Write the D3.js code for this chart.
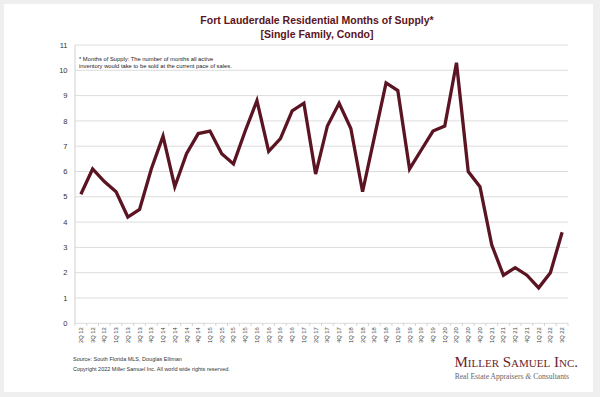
<!DOCTYPE html>
<html>
<head>
<meta charset="utf-8">
<script src="https://cdn.jsdelivr.net/npm/d3@7/dist/d3.min.js"></script>
<style>
  html, body { margin: 0; padding: 0; background: #efefef; }
  svg { display: block; font-family: Arial, "Liberation Sans", sans-serif; }
</style>
</head>
<body>
<svg id="chart" width="600" height="397"></svg>
<script>
/* ─────────────────── Datos ─────────────────── */
const quarters = [
  '2Q 12','3Q 12','4Q 12',
  '1Q 13','2Q 13','3Q 13','4Q 13',
  '1Q 14','2Q 14','3Q 14','4Q 14',
  '1Q 15','2Q 15','3Q 15','4Q 15',
  '1Q 16','2Q 16','3Q 16','4Q 16',
  '1Q 17','2Q 17','3Q 17','4Q 17',
  '1Q 18','2Q 18','3Q 18','4Q 18',
  '1Q 19','2Q 19','3Q 19','4Q 19',
  '1Q 20','2Q 20','3Q 20','4Q 20',
  '1Q 21','2Q 21','3Q 21','4Q 21',
  '1Q 22','2Q 22','3Q 22'
];

const monthsOfSupply = [
  5.1, 6.1, 5.6,
  5.2, 4.2, 4.5, 6.1,
  7.4, 5.4, 6.7, 7.5,
  7.6, 6.7, 6.3, 7.6,
  8.8, 6.8, 7.3, 8.4,
  8.7, 5.9, 7.8, 8.7,
  7.7, 5.2, 7.35, 9.5,
  9.2, 6.1, 6.85, 7.6,
  7.8, 10.3, 6.0, 5.4,
  3.1, 1.9, 2.2, 1.9,
  1.4, 2.0, 3.6
];

const yTicks = d3.range(0, 12);   // 0 … 11

const titleLines = [
  'Fort Lauderdale Residential Months of Supply*',
  '[Single Family, Condo]'
];
const noteLines = [
  '* Months of Supply: The number of months all active',
  'inventory would take to be sold at the current pace of sales.'
];
const footLines = [
  'Source: South Florida MLS, Douglas Elliman',
  'Copyright 2022 Miller Samuel Inc.  All world wide rights reserved.'
];

/* ─────────────────── Layout ─────────────────── */
const M = { left: 75, right: 568, top: 45, bottom: 323.3 };
const MAROON = '#5b1422';

const svg = d3.select('#chart');

// tarjeta blanca
svg.append('rect')
  .attr('x', 4).attr('y', 4)
  .attr('width', 589).attr('height', 388)
  .attr('fill', '#fff');

const x = d3.scalePoint()
  .domain(quarters)
  .range([M.left, M.right])
  .padding(0.5);

const y = d3.scaleLinear()
  .domain([0, 11])
  .range([M.bottom, M.top]);

/* ---- rejilla + eje Y ---- */
svg.append('g')
  .selectAll('line')
  .data(yTicks)
  .join('line')
    .attr('x1', M.left).attr('x2', M.right)
    .attr('y1', d => y(d)).attr('y2', d => y(d))
    .attr('stroke', '#dcdcdc')
    .attr('stroke-width', 1);

svg.append('line')
  .attr('x1', M.left).attr('x2', M.left)
  .attr('y1', M.top).attr('y2', M.bottom)
  .attr('stroke', '#d0d0d0');

svg.append('g')
  .selectAll('text')
  .data(yTicks)
  .join('text')
    .attr('x', 67.5)
    .attr('y', d => y(d))
    .attr('dy', '0.35em')
    .attr('text-anchor', 'end')
    .attr('font-size', 7.5)
    .attr('fill', '#333')
    .text(d => d);

/* ---- eje X ---- */
const step = x.step();
svg.append('g')
  .selectAll('line')
  .data(d3.range(quarters.length + 1))
  .join('line')
    .attr('x1', i => M.left + i * step).attr('x2', i => M.left + i * step)
    .attr('y1', M.bottom).attr('y2', M.bottom + 2.5)
    .attr('stroke', '#cfcfcf');

svg.append('g')
  .selectAll('text')
  .data(quarters)
  .join('text')
    .attr('transform', d => `translate(${x(d) + 2},${M.bottom + 4}) rotate(-90)`)
    .attr('text-anchor', 'end')
    .attr('font-size', 5.8)
    .attr('fill', '#444')
    .text(d => d);

/* ---- línea ---- */
svg.append('path')
  .datum(monthsOfSupply)
  .attr('fill', 'none')
  .attr('stroke', MAROON)
  .attr('stroke-width', 3.3)
  .attr('stroke-linejoin', 'miter')
  .attr('d', d3.line()
    .x((_, i) => x(quarters[i]))
    .y(d => y(d)));

/* ---- títulos y textos ---- */
svg.append('g')
  .selectAll('text')
  .data(titleLines)
  .join('text')
    .attr('x', 317)
    .attr('y', (_, i) => 24 + i * 14)
    .attr('text-anchor', 'middle')
    .attr('font-size', 10.5)
    .attr('font-weight', 'bold')
    .attr('fill', MAROON)
    .text(d => d);

svg.append('g')
  .selectAll('text')
  .data(noteLines)
  .join('text')
    .attr('x', 79)
    .attr('y', (_, i) => 61 + i * 7.3)
    .attr('font-size', 5.8)
    .attr('fill', '#222')
    .text(d => d);

svg.append('g')
  .selectAll('text')
  .data(footLines)
  .join('text')
    .attr('x', 73)
    .attr('y', (_, i) => 361 + i * 10)
    .attr('font-size', 5.5)
    .attr('fill', '#333')
    .text(d => d);

/* ---- logo ---- */
const logo = svg.append('g').attr('font-family', '"Liberation Serif", "DejaVu Serif", serif');
logo.append('text')
  .attr('x', 578).attr('y', 367)
  .attr('text-anchor', 'end')
  .attr('font-size', 15)
  .attr('font-variant', 'small-caps')
  .attr('fill', '#6b1e2c')
  .text('Miller Samuel Inc.');

const tag = logo.append('text')
  .attr('x', 569).attr('y', 379)
  .attr('text-anchor', 'end')
  .attr('font-size', 7.6)
  .attr('fill', '#666');
tag.append('tspan').text('Real Estate Appraisers ');
tag.append('tspan').attr('font-style', 'italic').text('&');
tag.append('tspan').text(' Consultants');
</script>
</body>
</html>
